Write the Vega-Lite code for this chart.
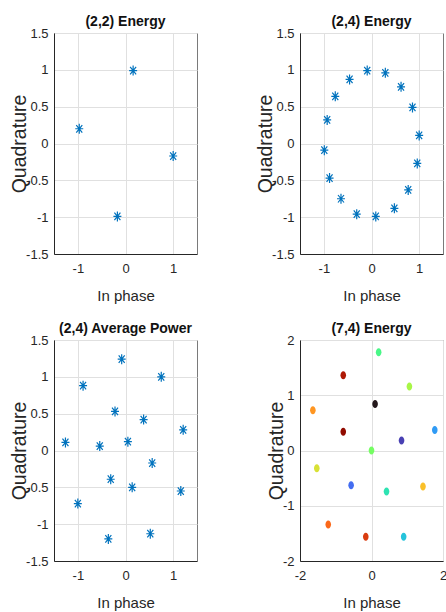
{
  "$schema": "https://vega.github.io/schema/vega-lite/v6.json",
  "background": "white",
  "padding": {"left": 9, "top": 14, "right": 0, "bottom": 0},
  "datasets": {
    "a": [
      {"i": 0.16, "q": 0.99}, {"i": -0.97, "q": 0.2}, {"i": 1.0, "q": -0.17}, {"i": -0.17, "q": -0.99}
    ],
    "b": [
      {"i": -0.09, "q": 0.99}, {"i": 0.29, "q": 0.96}, {"i": 0.62, "q": 0.77}, {"i": 0.86, "q": 0.49},
      {"i": 1.0, "q": 0.11}, {"i": 0.96, "q": -0.27}, {"i": 0.77, "q": -0.63}, {"i": 0.48, "q": -0.88},
      {"i": 0.09, "q": -0.99}, {"i": -0.31, "q": -0.96}, {"i": -0.64, "q": -0.75}, {"i": -0.88, "q": -0.47},
      {"i": -0.99, "q": -0.09}, {"i": -0.93, "q": 0.32}, {"i": -0.76, "q": 0.64}, {"i": -0.46, "q": 0.87}
    ],
    "c": [
      {"i": -0.08, "q": 1.24}, {"i": -0.89, "q": 0.88}, {"i": 0.75, "q": 1.0}, {"i": -0.22, "q": 0.53},
      {"i": 0.38, "q": 0.42}, {"i": 1.21, "q": 0.28}, {"i": -1.26, "q": 0.11}, {"i": -0.54, "q": 0.06},
      {"i": 0.05, "q": 0.12}, {"i": 0.56, "q": -0.17}, {"i": -0.31, "q": -0.39}, {"i": 0.14, "q": -0.5},
      {"i": 1.16, "q": -0.55}, {"i": -1.0, "q": -0.72}, {"i": -0.36, "q": -1.2}, {"i": 0.52, "q": -1.13}
    ],
    "d": [
      {"i": 0.2, "q": 1.78, "level": 6}, {"i": -0.79, "q": 1.36, "level": 14}, {"i": 1.06, "q": 1.16, "level": 8},
      {"i": 0.1, "q": 0.84, "level": 0}, {"i": -1.64, "q": 0.73, "level": 11}, {"i": -0.79, "q": 0.34, "level": 15},
      {"i": 1.77, "q": 0.37, "level": 3}, {"i": 0.84, "q": 0.18, "level": 1}, {"i": 0.0, "q": 0.0, "level": 7},
      {"i": -1.53, "q": -0.32, "level": 9}, {"i": -0.57, "q": -0.63, "level": 2}, {"i": 0.42, "q": -0.74, "level": 5},
      {"i": 1.44, "q": -0.65, "level": 10}, {"i": -1.21, "q": -1.34, "level": 12}, {"i": -0.16, "q": -1.56, "level": 13},
      {"i": 0.9, "q": -1.56, "level": 4}
    ]
  },
  "config": {
    "view": {"stroke": "#7a7a7a", "strokeWidth": 1},
    "axis": {
      "labelFont": "Liberation Sans",
      "labelFontSize": 13,
      "labelColor": "#262626",
      "labelFlush": false,
      "labelOverlap": false,
      "labelExpr": "'' + datum.value",
      "ticks": false,
      "grid": true,
      "gridColor": "#e0e0e0",
      "gridWidth": 1,
      "domainColor": "#262626",
      "domainWidth": 1,
      "titleColor": "#262626",
      "titleFontWeight": "normal"
    },
    "axisX": {
      "labelPadding": 8,
      "titleFont": "Liberation Sans",
      "titleFontSize": 15,
      "titlePadding": 13
    },
    "axisY": {
      "labelPadding": 6,
      "titleFont": "Liberation Sans",
      "titleFontSize": 19.5,
      "titlePadding": -4
    },
    "title": {
      "font": "Liberation Sans",
      "fontSize": 14,
      "fontWeight": "bold",
      "color": "#111111",
      "anchor": "middle",
      "frame": "group",
      "baseline": "alphabetic",
      "offset": -2
    }
  },
  "columns": 2,
  "bounds": "flush",
  "spacing": {"row": 86, "column": 103},
  "concat": [
    {
      "title": "(2,2) Energy",
      "width": 143,
      "height": 221,
      "data": {"name": "a"},
      "mark": {"type": "point", "filled": false, "shape": "M0,-1L0,1M-0.8,0L0.8,0M-0.6,-0.75L0.6,0.75M-0.6,0.75L0.6,-0.75", "size": 100, "strokeWidth": 1.2, "color": "#0072bd", "opacity": 1},
      "encoding": {
        "x": {"field": "i", "type": "quantitative", "title": "In phase", "scale": {"domain": [-1.5, 1.5], "nice": false, "zero": false}, "axis": {"values": [-1, 0, 1]}},
        "y": {"field": "q", "type": "quantitative", "title": "Quadrature", "scale": {"domain": [-1.5, 1.5], "nice": false, "zero": false}, "axis": {"values": [-1.5, -1, -0.5, 0, 0.5, 1, 1.5]}}
      }
    },
    {
      "title": "(2,4) Energy",
      "width": 143,
      "height": 221,
      "data": {"name": "b"},
      "mark": {"type": "point", "filled": false, "shape": "M0,-1L0,1M-0.8,0L0.8,0M-0.6,-0.75L0.6,0.75M-0.6,0.75L0.6,-0.75", "size": 100, "strokeWidth": 1.2, "color": "#0072bd", "opacity": 1},
      "encoding": {
        "x": {"field": "i", "type": "quantitative", "title": "In phase", "scale": {"domain": [-1.5, 1.5], "nice": false, "zero": false}, "axis": {"values": [-1, 0, 1]}},
        "y": {"field": "q", "type": "quantitative", "title": "Quadrature", "scale": {"domain": [-1.5, 1.5], "nice": false, "zero": false}, "axis": {"values": [-1.5, -1, -0.5, 0, 0.5, 1, 1.5]}}
      }
    },
    {
      "title": "(2,4) Average Power",
      "width": 143,
      "height": 221,
      "data": {"name": "c"},
      "mark": {"type": "point", "filled": false, "shape": "M0,-1L0,1M-0.8,0L0.8,0M-0.6,-0.75L0.6,0.75M-0.6,0.75L0.6,-0.75", "size": 100, "strokeWidth": 1.2, "color": "#0072bd", "opacity": 1},
      "encoding": {
        "x": {"field": "i", "type": "quantitative", "title": "In phase", "scale": {"domain": [-1.5, 1.5], "nice": false, "zero": false}, "axis": {"values": [-1, 0, 1]}},
        "y": {"field": "q", "type": "quantitative", "title": "Quadrature", "scale": {"domain": [-1.5, 1.5], "nice": false, "zero": false}, "axis": {"values": [-1.5, -1, -0.5, 0, 0.5, 1, 1.5]}}
      }
    },
    {
      "title": "(7,4) Energy",
      "width": 143,
      "height": 221,
      "data": {"name": "d"},
      "mark": {"type": "point", "filled": true, "shape": "M0.7,0A0.7,1,0,1,1,-0.7,0A0.7,1,0,1,1,0.7,0Z", "size": 64, "strokeWidth": 0, "opacity": 1},
      "encoding": {
        "x": {"field": "i", "type": "quantitative", "title": "In phase", "scale": {"domain": [-2, 2], "nice": false, "zero": false}, "axis": {"values": [-2, 0, 2]}},
        "y": {"field": "q", "type": "quantitative", "title": "Quadrature", "scale": {"domain": [-2, 2], "nice": false, "zero": false}, "axis": {"values": [-2, -1, 0, 1, 2]}},
        "color": {"field": "level", "type": "quantitative", "scale": {"scheme": "turbo", "domain": [0, 15]}, "legend": null}
      }
    }
  ]
}
